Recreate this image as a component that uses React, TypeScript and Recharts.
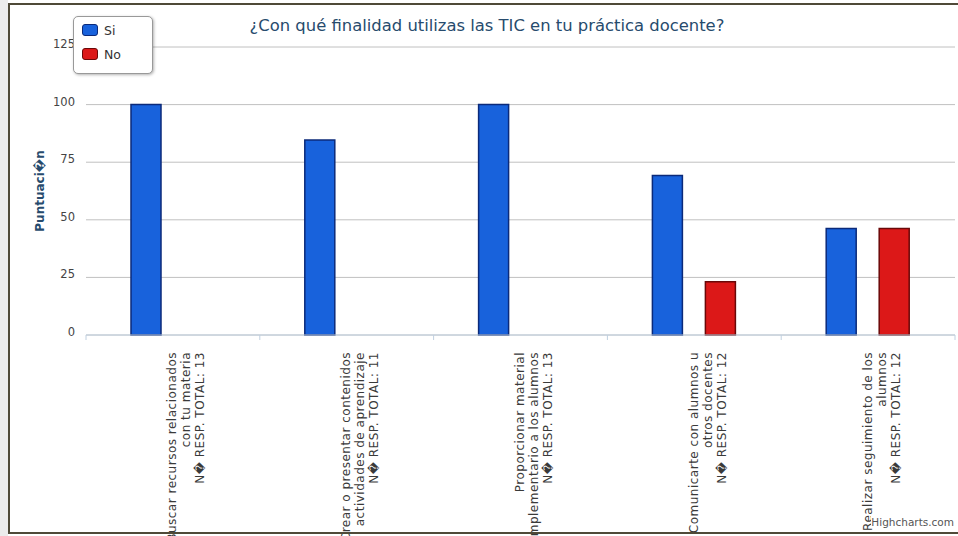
import React from 'react';
import { BarChart, Bar, XAxis, YAxis, CartesianGrid } from 'recharts';

const categoryLines: string[][] = [
  ['Buscar recursos relacionados', 'con tu materia', 'N\uFFFD RESP. TOTAL: 13'],
  ['Crear o presentar contenidos', 'actividades de aprendizaje', 'N\uFFFD RESP. TOTAL: 11'],
  ['Proporcionar material', 'complementario a los alumnos', 'N\uFFFD RESP. TOTAL: 13'],
  ['Comunicarte con alumnos u', 'otros docentes', 'N\uFFFD RESP. TOTAL: 12'],
  ['Realizar seguimiento de los', 'alumnos', 'N\uFFFD RESP. TOTAL: 12'],
];
const siValues = [100, 84.6, 100, 69.2, 46.2];
const noValues = [0, 0, 0, 23.1, 46.2];
const yTicks = [0, 25, 50, 75, 100, 125];

const series = [
  { key: 'si', name: 'Si', fill: '#1862dc', stroke: '#0b2a7a' },
  { key: 'no', name: 'No', fill: '#dc1818', stroke: '#6a0808' },
];

const data = categoryLines.map((lines, i) => ({
  name: lines.join(' '),
  si: siValues[i],
  no: noValues[i],
}));

const W = 958;
const H = 536;
const PLOT_LEFT = 86;
const PLOT_RIGHT = 3;
const FONT = '"DejaVu Sans", Verdana, sans-serif';
const bandWidth = (W - PLOT_LEFT - PLOT_RIGHT) / categoryLines.length;

const XTick = (props: any) => {
  const { x, y, payload } = props;
  const lines = categoryLines[payload.index] || [];
  const left = x - bandWidth / 2;
  const axisY = y - 8;
  return (
    <g>
      <line x1={left} x2={left} y1={axisY} y2={axisY + 5} stroke="#C0D0E0" />
      {payload.index === categoryLines.length - 1 && (
        <line x1={left + bandWidth} x2={left + bandWidth} y1={axisY} y2={axisY + 5} stroke="#C0D0E0" />
      )}
      <text
        transform={`translate(${x},${axisY + 17}) rotate(-90)`}
        textAnchor="end"
        fontSize={12}
        letterSpacing={0.5}
        fontFamily={FONT}
        fill="#3a3a3a"
      >
        {lines.map((l, i) => (
          <tspan key={i} x={0} y={3.5 + i * 14}>{l}</tspan>
        ))}
      </text>
    </g>
  );
};

const YTick = (props: any) => {
  const { x, y, payload } = props;
  return (
    <text x={x} y={y + 1} textAnchor="end" fontSize={11.5} fontFamily={FONT} fill="#444">
      {payload.value}
    </text>
  );
};

const LegendBox = () => (
  <div
    style={{
      position: 'absolute',
      left: 73,
      top: 16,
      width: 80,
      height: 58,
      border: '1px solid #999',
      borderRadius: 5,
      background: '#fff',
      boxShadow: '1px 1px 3px rgba(0,0,0,0.3)',
      fontFamily: FONT,
      fontSize: 12.5,
      color: '#333',
      boxSizing: 'border-box',
      paddingTop: 7,
      paddingLeft: 8,
    }}
  >
    {series.map((s) => (
      <div key={s.key} style={{ display: 'flex', alignItems: 'center', height: 12, marginBottom: 12 }}>
        <span
          style={{
            display: 'inline-block',
            width: 14,
            height: 10,
            borderRadius: 3,
            background: s.fill,
            border: `1px solid ${s.stroke}`,
            marginRight: 6,
          }}
        />
        <span>{s.name}</span>
      </div>
    ))}
  </div>
);

export default function App() {
  return (
    <div style={{ position: 'absolute', left: 0, top: 0, width: W, height: H, background: '#fff', overflow: 'hidden' }}>
      <div style={{ position: 'absolute', left: 0, top: 0, width: 8, height: H, background: '#ececec' }} />
      <div
        style={{
          position: 'absolute',
          left: 0,
          top: 16,
          width: W,
          textAlign: 'center',
          paddingLeft: 16,
          boxSizing: 'border-box',
          fontFamily: FONT,
          fontSize: 16.4,
          color: '#274b6d',
        }}
      >
        ¿Con qué finalidad utilizas las TIC en tu práctica docente?
      </div>
      <div style={{ position: 'absolute', left: 0, top: 0 }}>
        <BarChart
          width={W}
          height={H}
          data={data}
          margin={{ top: 47, right: PLOT_RIGHT, left: 0, bottom: 0 }}
          barSize={30}
          barGap={23}
        >
          <CartesianGrid vertical={false} stroke="#C0C0C0" />
          <XAxis
            dataKey="name"
            height={201}
            interval={0}
            axisLine={{ stroke: '#C0D0E0' }}
            tickLine={false}
            tick={<XTick />}
          />
          <YAxis
            width={PLOT_LEFT}
            domain={[0, 125]}
            ticks={yTicks}
            axisLine={false}
            tickLine={false}
            tickSize={0}
            tickMargin={11}
            tick={<YTick />}
            label={{
              value: 'Puntuaci\uFFFDn',
              angle: -90,
              position: 'insideLeft',
              offset: 40,
              style: { fontFamily: FONT, fontSize: 12, fontWeight: 'bold', fill: '#274b6d', textAnchor: 'middle' },
            }}
          />
          {series.map((s) => (
            <Bar
              key={s.key}
              dataKey={s.key}
              name={s.name}
              fill={s.fill}
              stroke={s.stroke}
              strokeWidth={1.5}
              isAnimationActive={false}
            />
          ))}
        </BarChart>
      </div>
      <LegendBox />
      <div
        style={{
          position: 'absolute',
          right: 4,
          top: 516,
          fontFamily: FONT,
          fontSize: 10.5,
          color: '#555',
          background: '#fff',
        }}
      >
        Highcharts.com
      </div>
      <div
        style={{
          position: 'absolute',
          left: 8,
          top: 3,
          width: W,
          height: 531,
          borderTop: '2px solid #4f4a38',
          borderLeft: '2px solid #4f4a38',
          borderBottom: '2px solid #4f4a38',
          boxSizing: 'border-box',
          pointerEvents: 'none',
        }}
      />
    </div>
  );
}
